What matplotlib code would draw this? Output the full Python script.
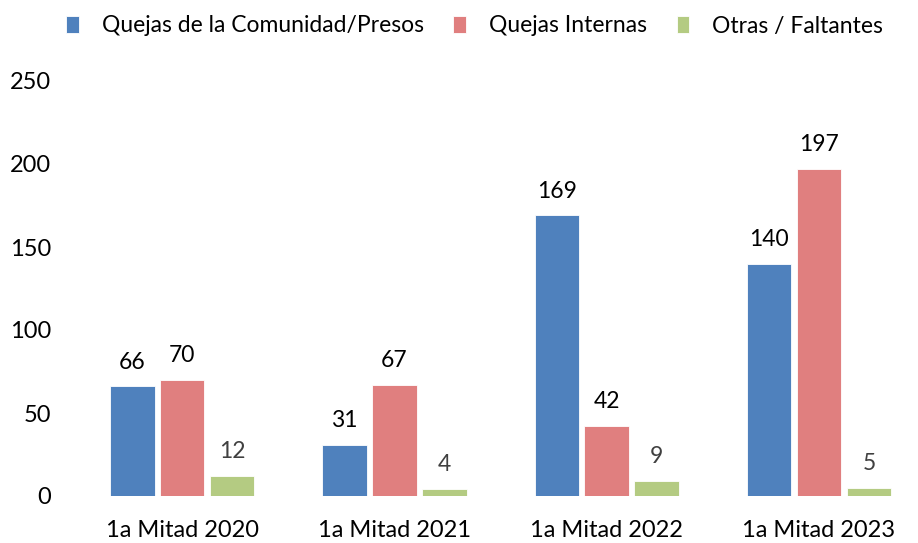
import numpy as np
import matplotlib.pyplot as plt

plt.rcParams['font.family'] = ['Lato', 'DejaVu Sans']

categories = ['1a Mitad 2020', '1a Mitad 2021', '1a Mitad 2022', '1a Mitad 2023']
series_names = ['Quejas de la Comunidad/Presos', 'Quejas Internas', 'Otras / Faltantes']
comunidad = [66, 31, 169, 140]
internas = [70, 67, 42, 197]
otras = [12, 4, 9, 5]

colors = ['#4F81BD', '#E07F7F', '#B4CB82']
label_colors = ['#000000', '#000000', '#404040']

W, H = 918, 543
fig = plt.figure(figsize=(W / 100, H / 100), dpi=100)
ax = fig.add_axes([76 / W, 1 - 496 / H, (W - 76) / W, (496 - 81) / H])

x = np.arange(len(categories))
width = 0.21
step = 0.235
handles = []
for i, (vals, name) in enumerate(zip([comunidad, internas, otras], series_names)):
    pos = x + (i - 1) * step
    bars = ax.bar(pos, vals, width, color=colors[i], edgecolor='white',
                  linewidth=0.6, label=name)
    handles.append(bars)
    for p, v in zip(pos, vals):
        ax.annotate(str(v), (p, v), xytext=(0, 10), textcoords='offset points',
                    ha='center', va='bottom', fontsize=16.5, color=label_colors[i])

ax.set_xlim(-0.5, -0.5 + (W - 76) / 212.3)
ax.set_ylim(0, 250)
ax.set_yticks(range(0, 251, 50))
ax.set_xticks(x)
ax.set_xticklabels(categories)
ax.tick_params(axis='both', length=0, labelsize=17, colors='black')
ax.tick_params(axis='x', pad=17)
ax.tick_params(axis='y', pad=18)
for s in ax.spines.values():
    s.set_visible(False)

fig.legend(handles=handles, loc='center left', bbox_to_anchor=(66 / W, 1 - 26 / H),
           ncol=3, frameon=False, fontsize=16.5, handlelength=0.55, handleheight=0.8,
           handletextpad=1.0, columnspacing=1.3, borderaxespad=0, borderpad=0)

fig.savefig('out.png', dpi=100)
